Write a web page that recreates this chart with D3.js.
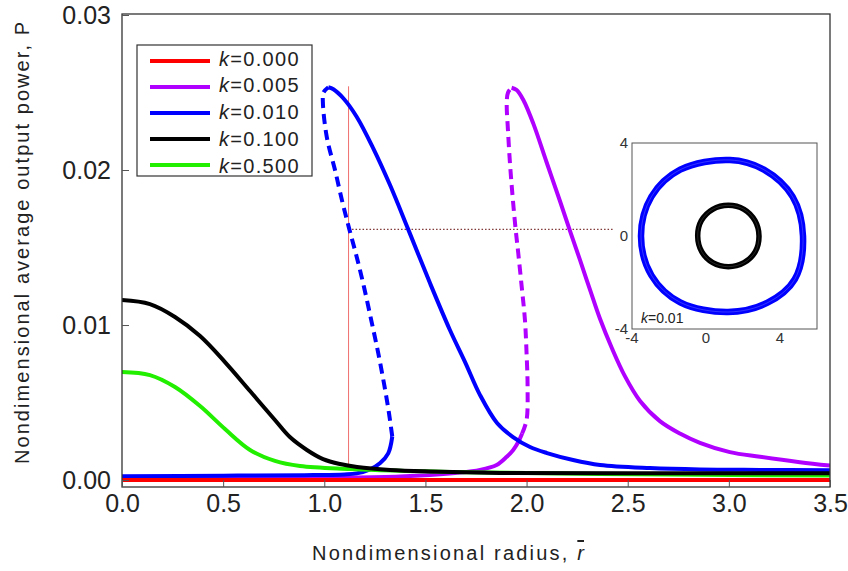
<!DOCTYPE html>
<html><head><meta charset="utf-8">
<script src="https://cdn.jsdelivr.net/npm/d3@7"></script>
<style>
html,body{margin:0;padding:0;background:#fff;}
svg{display:block;font-family:"Liberation Sans",Arial,sans-serif;}
</style></head><body>
<svg id="chart" width="848" height="571"></svg>
<script>
// ---------- data ----------
const xTicks = [0, 0.5, 1, 1.5, 2, 2.5, 3, 3.5];
const yTicks = [0, 0.01, 0.02, 0.03];
const kLabels = ["0.000", "0.005", "0.010", "0.100", "0.500"];
const colors = ["#ff0000", "#b000ff", "#0000ff", "#000000", "#22ee00"];

// k = 0.000
const redR = [0, 3.5];
const redP = [0, 0];

// k = 0.005
const purpleLowerR = [0, 0.5, 0.88, 1.127, 1.374, 1.52, 1.646, 1.770, 1.852, 1.902, 1.934, 1.959, 1.978];
const purpleLowerP = [0.00006, 0.0001, 0.00013, 0.00016, 0.00023, 0.00032, 0.00045, 0.00065, 0.00097, 0.0015, 0.00194, 0.00245, 0.0030];
const purpleDashR = [1.978, 2.0, 2.005, 2.0, 1.992, 1.976, 1.959, 1.946, 1.931, 1.918, 1.908, 1.902, 1.908, 1.926];
const purpleDashP = [0.0030, 0.00387, 0.00602, 0.00817, 0.01032, 0.01247, 0.01462, 0.01617, 0.01828, 0.02043, 0.02258, 0.0243, 0.02499, 0.02531];
const purpleUpperR = [1.926, 1.951, 1.984, 2.033, 2.099, 2.165, 2.218, 2.264, 2.313, 2.363, 2.422, 2.486, 2.561, 2.659, 2.758, 2.857, 3.005, 3.154, 3.351, 3.5];
const purpleUpperP = [0.02531, 0.02516, 0.02452, 0.02301, 0.0205, 0.0180, 0.01595, 0.0142, 0.0123, 0.0104, 0.0085, 0.0067, 0.0051, 0.0038, 0.0030, 0.0024, 0.0018, 0.0015, 0.00115, 0.00093];

// k = 0.010
const blueLowerR = [0, 0.5, 0.9, 1.1, 1.16, 1.226, 1.275, 1.316, 1.336];
const blueLowerP = [0.00025, 0.00028, 0.00031, 0.00036, 0.00043, 0.00069, 0.00108, 0.00172, 0.0028];
const blueDashR = [1.336, 1.320, 1.298, 1.267, 1.232, 1.196, 1.160, 1.124, 1.091, 1.053, 1.012, 0.993, 0.996, 1.020];
const blueDashP = [0.0028, 0.0043, 0.00602, 0.00817, 0.01032, 0.01247, 0.01441, 0.01617, 0.01785, 0.02, 0.02215, 0.02440, 0.02500, 0.02534];
const blueUpperR = [1.020, 1.045, 1.094, 1.160, 1.242, 1.325, 1.415, 1.523, 1.621, 1.696, 1.770, 1.854, 1.933, 2.017, 2.101, 2.230, 2.363, 2.610, 2.857, 3.154, 3.5];
const blueUpperP = [0.02534, 0.02521, 0.02463, 0.02344, 0.0214, 0.01903, 0.01617, 0.01269, 0.00968, 0.00761, 0.00548, 0.00368, 0.00277, 0.00213, 0.00174, 0.00129, 0.00097, 0.00077, 0.00068, 0.00065, 0.00063];

// k = 0.100
const blackR = [0, 0.138, 0.262, 0.386, 0.509, 0.633, 0.756, 0.830, 0.914, 0.994, 1.078, 1.162, 1.325, 1.523, 1.868, 2.5, 3.5];
const blackP = [0.01161, 0.01135, 0.01052, 0.00929, 0.00761, 0.00574, 0.00387, 0.00277, 0.00194, 0.00135, 0.00103, 0.00084, 0.00065, 0.00055, 0.00046, 0.00044, 0.00043];

// k = 0.500
const greenR = [0, 0.138, 0.262, 0.386, 0.509, 0.633, 0.756, 0.880, 1.127, 1.62, 2.36, 3.5];
const greenP = [0.00697, 0.00677, 0.0060, 0.00477, 0.00329, 0.00194, 0.00123, 0.0009, 0.00071, 0.00052, 0.00039, 0.00029];

// annotation (operating point at k=0.01)
const markR = 1.12, markPTop = 0.0254, markPBottom = 0.0007, markP = 0.01617, markREnd = 2.427;

// inset: phase portraits at k = 0.01
const insetTicks = [-4, 0, 4];
const blueOrbitX = [5.243, 4.681, 3.130, 1.297, -1.395, -2.950, -3.514, -2.950, -1.395, 1.189, 3.300, 4.800];
const blueOrbitY = [0.0, 1.690, 2.852, 3.269, 2.852, 1.690, 0.0, -1.690, -2.852, -3.269, -2.880, -1.860];
const blackOrbitX = [1.207, 2.054, 2.649, 2.865, 2.665, 2.054, 1.207, 0.362, -0.232, -0.449, -0.254, 0.362];
const blackOrbitY = [1.32, 1.148, 0.658, 0.0, -0.675, -1.148, -1.32, -1.148, -0.675, 0.0, 0.658, 1.148];

// ---------- drawing ----------
const svg = d3.select("#chart");
const L = 122, R = 830, T = 14, B = 487;
const x = d3.scaleLinear().domain([0, 3.5]).range([L, R]);
const y = d3.scaleLinear().domain([-0.00045, 0.030065]).range([B, T]);

svg.append("defs").append("clipPath").attr("id", "plotclip")
  .append("rect").attr("x", L).attr("y", T).attr("width", R - L).attr("height", B - T);

const zip = (a, b) => a.map((v, i) => [v, b[i]]);
const line = d3.line().x(d => x(d[0])).y(d => y(d[1])).curve(d3.curveCatmullRom.alpha(0.5));

// annotation lines
const ann = svg.append("g");
ann.append("line").attr("x1", x(markR)).attr("x2", x(markR))
  .attr("y1", y(markPTop)).attr("y2", y(markPBottom))
  .attr("stroke", "#f07070").attr("stroke-width", 1);
ann.append("line").attr("x1", x(markR)).attr("x2", x(markREnd))
  .attr("y1", y(markP)).attr("y2", y(markP))
  .attr("stroke", "#803838").attr("stroke-width", 1.1).attr("stroke-dasharray", "1.5,2");

const segments = [
  { c: colors[1], dash: false, d: zip(purpleLowerR, purpleLowerP) },
  { c: colors[1], dash: true,  d: zip(purpleDashR, purpleDashP) },
  { c: colors[1], dash: false, d: zip(purpleUpperR, purpleUpperP) },
  { c: colors[2], dash: false, d: zip(blueLowerR, blueLowerP) },
  { c: colors[2], dash: true,  d: zip(blueDashR, blueDashP) },
  { c: colors[2], dash: false, d: zip(blueUpperR, blueUpperP) },
  { c: colors[4], dash: false, d: zip(greenR, greenP) },
  { c: colors[3], dash: false, d: zip(blackR, blackP) },
  { c: colors[0], dash: false, d: zip(redR, redP) }
];
const curves = svg.append("g").attr("clip-path", "url(#plotclip)");
curves.selectAll("path").data(segments).join("path")
  .attr("d", s => line(s.d))
  .attr("fill", "none")
  .attr("stroke", s => s.c)
  .attr("stroke-width", 4)
  .attr("stroke-linejoin", "round")
  .attr("stroke-dasharray", s => s.dash ? "10,6" : null);

// frame
svg.append("rect").attr("x", L).attr("y", T).attr("width", R - L).attr("height", B - T)
  .attr("fill", "none").attr("stroke", "#333").attr("stroke-width", 1.3);

// axes
const yAxis = d3.axisLeft(y).tickValues(yTicks).tickSizeInner(-7).tickSizeOuter(0)
  .tickPadding(11).tickFormat(d3.format(".2f"));
const gy = svg.append("g").attr("transform", `translate(${L},0)`).call(yAxis);
gy.select(".domain").remove();
gy.selectAll(".tick line").attr("stroke", "#555");
gy.selectAll("text").attr("font-size", 25).attr("fill", "#222")
  .attr("font-family", "Liberation Sans, Arial, sans-serif");

const xAxis = d3.axisBottom(x).tickValues(xTicks).tickSizeInner(-7).tickSizeOuter(0)
  .tickPadding(7).tickFormat(d3.format(".1f"));
const gx = svg.append("g").attr("transform", `translate(0,${B})`).call(xAxis);
gx.select(".domain").remove();
gx.selectAll(".tick line").attr("stroke", "#555");
gx.selectAll("text").attr("font-size", 25).attr("fill", "#222")
  .attr("font-family", "Liberation Sans, Arial, sans-serif");

// axis titles
svg.append("text")
  .attr("transform", "translate(29,243) rotate(-90)")
  .attr("text-anchor", "middle").attr("font-size", 20).attr("fill", "#222")
  .attr("textLength", 442).attr("lengthAdjust", "spacing")
  .text("Nondimensional average output power, P");

const xt = svg.append("text").attr("x", 312).attr("y", 560)
  .attr("font-size", 20).attr("fill", "#222")
  .attr("textLength", 272).attr("lengthAdjust", "spacing");
xt.append("tspan").text("Nondimensional radius, ");
xt.append("tspan").attr("font-style", "italic").style("text-decoration", "overline").text("r");

// legend
const leg = svg.append("g");
leg.append("rect").attr("x", 137).attr("y", 45).attr("width", 175).attr("height", 131)
  .attr("fill", "#fff").attr("stroke", "#333").attr("stroke-width", 1.2);
const rowY = d3.scaleLinear().domain([0, 4]).range([61, 165]);
const textY = d3.scaleLinear().domain([0, 4]).range([65.5, 172.5]);
kLabels.forEach((k, i) => {
  leg.append("line").attr("x1", 150).attr("x2", 210).attr("y1", rowY(i)).attr("y2", rowY(i))
    .attr("stroke", colors[i]).attr("stroke-width", 4);
  const t = leg.append("text").attr("x", 219).attr("y", textY(i))
    .attr("font-size", 20).attr("fill", "#222").attr("letter-spacing", 1.3);
  t.append("tspan").attr("font-style", "italic").text("k");
  t.append("tspan").text("=" + k);
});

// inset
const ix = d3.scaleLinear().domain([-4, 6]).range([632, 817]);
const iy = d3.scaleLinear().domain([-4, 4]).range([329, 143]);
const ins = svg.append("g");
ins.append("rect").attr("x", 632).attr("y", 143).attr("width", 185).attr("height", 186)
  .attr("fill", "#fff").attr("stroke", "#555").attr("stroke-width", 1);
const orbit = d3.line().x(d => ix(d[0])).y(d => iy(d[1])).curve(d3.curveCatmullRomClosed.alpha(0.5));
ins.append("path").attr("d", orbit(zip(blueOrbitX, blueOrbitY)))
  .attr("fill", "none").attr("stroke", "#0000ff").attr("stroke-width", 6.5);
ins.append("path").attr("d", orbit(zip(blueOrbitX, blueOrbitY)))
  .attr("fill", "none").attr("stroke", "#fff").attr("stroke-opacity", 0.35).attr("stroke-width", 0.6);
ins.append("path").attr("d", orbit(zip(blackOrbitX, blackOrbitY)))
  .attr("fill", "none").attr("stroke", "#000").attr("stroke-width", 5.5);
ins.append("path").attr("d", orbit(zip(blackOrbitX, blackOrbitY)))
  .attr("fill", "none").attr("stroke", "#fff").attr("stroke-opacity", 0.3).attr("stroke-width", 0.5);

ins.selectAll(".iyl").data(insetTicks).join("text").attr("class", "iyl")
  .attr("x", 628).attr("y", d => iy(d)).attr("dy", "0.35em")
  .attr("text-anchor", "end").attr("font-size", 15).attr("fill", "#333")
  .text(d => d);
ins.selectAll(".ixl").data(insetTicks).join("text").attr("class", "ixl")
  .attr("x", d => ix(d)).attr("y", 343)
  .attr("text-anchor", "middle").attr("font-size", 15).attr("fill", "#333")
  .text(d => d);
const kt = ins.append("text").attr("x", 641).attr("y", 323).attr("font-size", 14).attr("fill", "#222");
kt.append("tspan").attr("font-style", "italic").text("k");
kt.append("tspan").text("=0.01");
</script>
</body></html>
